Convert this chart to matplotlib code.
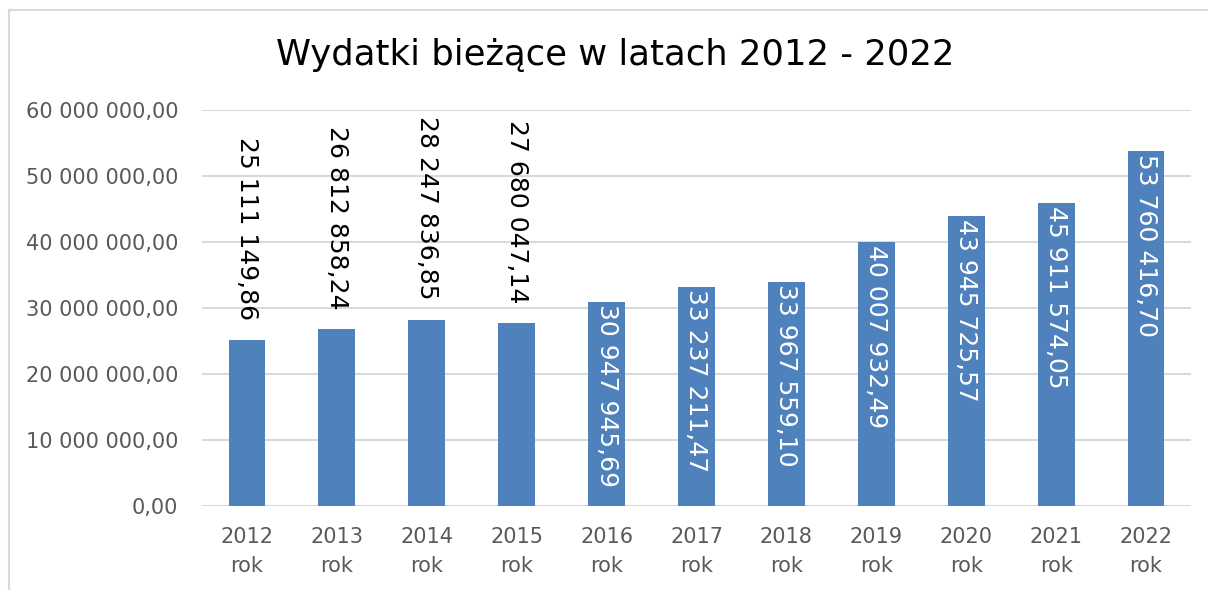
import matplotlib.pyplot as plt
from matplotlib.patches import Rectangle

# dane
lata = ["2012", "2013", "2014", "2015", "2016", "2017", "2018", "2019", "2020", "2021", "2022"]
wydatki = [25111149.86, 26812858.24, 28247836.85, 27680047.14, 30947945.69, 33237211.47,
           33967559.10, 40007932.49, 43945725.57, 45911574.05, 53760416.70]
yticks = [0, 10e6, 20e6, 30e6, 40e6, 50e6, 60e6]


def fmt(v, dec=2):
    s = f"{v:,.{dec}f}"
    return s.replace(",", " ").replace(".", ",")


fig = plt.figure(figsize=(12.08, 5.9), dpi=100)
fig.patches.append(Rectangle((9 / 1208, -0.1), 1.2, 1 - 10 / 590 + 0.1, transform=fig.transFigure,
                             fill=False, edgecolor="#d9d9d9", linewidth=1.5))

ax = fig.add_axes([202 / 1208, 1 - 506 / 590, 989 / 1208, 396 / 590])
x = range(len(lata))
bars = ax.bar(x, wydatki, width=0.41, color="#4f81bd", zorder=3)

ax.set_ylim(0, 60e6)
ax.set_xlim(-0.5, len(lata) - 0.5)
ax.set_yticks(yticks)
ax.set_yticklabels([fmt(t) for t in yticks])
ax.set_xticks(list(x))
ax.set_xticklabels([f"{r}\nrok" for r in lata], linespacing=1.6)
ax.tick_params(axis="y", length=0, pad=17, labelsize=15, labelcolor="#595959")
ax.tick_params(axis="x", length=0, pad=15, labelsize=15, labelcolor="#595959")
ax.grid(axis="y", color="#d9d9d9", linewidth=1.5, zorder=0)
for s in ax.spines.values():
    s.set_visible(False)

# etykiety wartosci
for i, v in enumerate(wydatki):
    if i < 4:
        ax.text(i, v + 3.0e6, fmt(v), rotation=270, ha="center", va="bottom",
                fontsize=18, color="black")
    else:
        ax.text(i, v - 0.4e6, fmt(v), rotation=270, ha="center", va="top",
                fontsize=18, color="white")

fig.text(615 / 1208, 1 - 55 / 590, "Wydatki bieżące w latach 2012 - 2022", ha="center", va="center",
         fontsize=25.5, color="black")

fig.savefig("out.png", dpi=100)
